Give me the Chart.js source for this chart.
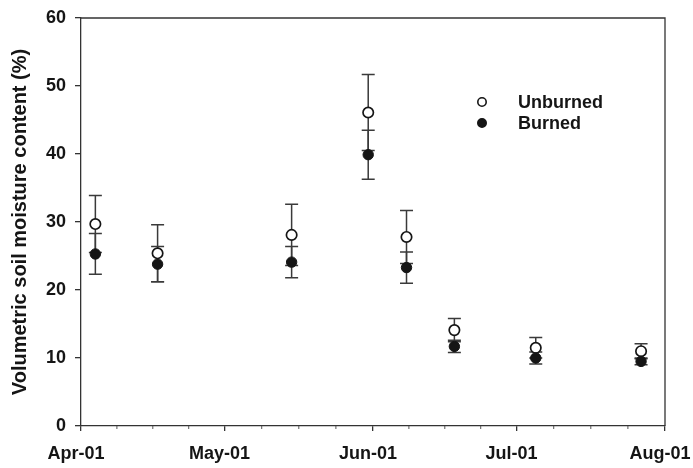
<!DOCTYPE html>
<html>
<head>
<meta charset="utf-8">
<script src="https://cdn.jsdelivr.net/npm/chart.js@4.4.0/dist/chart.umd.min.js"></script>
<style>
  html, body { margin: 0; padding: 0; background: #fff; }
  #wrap { width: 693px; height: 468px; }
</style>
</head>
<body>
<div id="wrap"><canvas id="moistureChart" width="693" height="468"></canvas></div>
<script>
// sampling dates as days since Apr-01
const sampleDays = [3, 16, 44, 60, 68, 78, 95, 117];
const unburnedMean = [29.7, 25.4, 28.1, 46.1, 27.8, 14.1, 11.5, 11.0];
const unburnedSD = [4.2, 4.2, 4.5, 5.6, 3.9, 1.7, 1.5, 1.1];
const burnedMean = [25.3, 23.8, 24.1, 39.9, 23.3, 11.7, 10.0, 9.5];
const burnedSD = [3.0, 2.6, 2.3, 3.6, 2.3, 0.9, 0.9, 0.5];

// x axis month ticks (days since Apr-01)
const monthDays = [0, 30, 61, 91, 122];
const monthLabels = ['Apr-01', 'May-01', 'Jun-01', 'Jul-01', 'Aug-01'];
const yTicks = [0, 10, 20, 30, 40, 50, 60];

const FONT = 'Liberation Sans, Arial, sans-serif';
const INK = '#151515';

function toPoints(means) {
    return sampleDays.map((d, i) => ({ x: d, y: means[i] }));
}

// error bars go under the markers
const errorBars = {
    id: 'errorBars',
    beforeDatasetsDraw(chart) {
        const { ctx, scales: { x, y } } = chart;
        const sets = [[unburnedMean, unburnedSD], [burnedMean, burnedSD]];
        ctx.save();
        ctx.strokeStyle = '#3a3a3a';
        ctx.lineWidth = 1.5;
        sets.forEach(([means, sds]) => {
            sampleDays.forEach((d, i) => {
                const px = x.getPixelForValue(d);
                const top = y.getPixelForValue(means[i] + sds[i]);
                const bot = y.getPixelForValue(means[i] - sds[i]);
                ctx.beginPath();
                ctx.moveTo(px, top); ctx.lineTo(px, bot);
                ctx.moveTo(px - 6.5, top); ctx.lineTo(px + 6.5, top);
                ctx.moveTo(px - 6.5, bot); ctx.lineTo(px + 6.5, bot);
                ctx.stroke();
            });
        });
        ctx.restore();
    }
};

// frame, minor x ticks and the in-plot legend
const frameAndLegend = {
    id: 'frameAndLegend',
    afterDraw(chart) {
        const { ctx, chartArea: a, scales: { x } } = chart;
        ctx.save();
        ctx.strokeStyle = '#333';
        ctx.lineWidth = 1.3;
        ctx.beginPath();
        ctx.moveTo(a.left, a.top); ctx.lineTo(a.right, a.top); ctx.lineTo(a.right, a.bottom);
        ctx.stroke();

        // quarter-month minor ticks
        ctx.lineWidth = 1;
        ctx.strokeStyle = '#555';
        for (let m = 0; m < monthDays.length - 1; m++) {
            const len = monthDays[m + 1] - monthDays[m];
            for (let k = 1; k < 4; k++) {
                const px = x.getPixelForValue(monthDays[m] + len * k / 4);
                ctx.beginPath();
                ctx.moveTo(px, a.bottom); ctx.lineTo(px, a.bottom + 3);
                ctx.stroke();
            }
        }

        // legend
        const items = [
            { label: 'Unburned', fill: '#fff', y: 102 },
            { label: 'Burned', fill: INK, y: 123 }
        ];
        ctx.font = 'bold 18px ' + FONT;
        ctx.textBaseline = 'middle';
        ctx.fillStyle = INK;
        items.forEach(it => {
            ctx.beginPath();
            ctx.arc(482, it.y, 4.2, 0, Math.PI * 2);
            ctx.fillStyle = it.fill;
            ctx.fill();
            ctx.lineWidth = 1.6;
            ctx.strokeStyle = INK;
            ctx.stroke();
            ctx.fillStyle = INK;
            ctx.fillText(it.label, 518, it.y + 1);
        });
        ctx.restore();
    }
};

new Chart(document.getElementById('moistureChart'), {
    type: 'scatter',
    data: {
        datasets: [
            {
                label: 'Burned',
                data: toPoints(burnedMean),
                pointRadius: 5.2,
                pointBackgroundColor: INK,
                pointBorderColor: INK,
                pointBorderWidth: 1
            },
            {
                label: 'Unburned',
                data: toPoints(unburnedMean),
                pointRadius: 5.2,
                pointBackgroundColor: '#fff',
                pointBorderColor: INK,
                pointBorderWidth: 1.7
            }
        ]
    },
    options: {
        responsive: false,
        animation: false,
        layout: { padding: { top: 18, right: 28, left: 0, bottom: 0 } },
        plugins: {
            legend: { display: false },
            tooltip: { enabled: false }
        },
        scales: {
            x: {
                type: 'linear',
                min: 0,
                max: 122,
                afterBuildTicks: scale => { scale.ticks = monthDays.map(v => ({ value: v })); },
                afterFit: scale => {
                    scale.height = 42;
                    scale.paddingLeft = 0;
                    scale.paddingRight = 0;
                },
                grid: { drawOnChartArea: false, tickLength: 5, color: '#333', lineWidth: 1.3 },
                border: { color: '#333', width: 1.3 },
                ticks: {
                    padding: 12,
                    labelOffset: -5,
                    maxRotation: 0,
                    autoSkip: false,
                    color: INK,
                    font: { family: FONT, size: 18, weight: 'bold' },
                    callback: v => monthLabels[monthDays.indexOf(v)]
                }
            },
            y: {
                min: 0,
                max: 60,
                afterBuildTicks: scale => { scale.ticks = yTicks.map(v => ({ value: v })); },
                afterFit: scale => {
                    scale.width = 81;
                    scale.paddingTop = 0;
                    scale.paddingBottom = 0;
                },
                grid: { drawOnChartArea: false, tickLength: 6, color: '#333', lineWidth: 1.3 },
                border: { color: '#333', width: 1.3 },
                ticks: {
                    padding: 9,
                    color: INK,
                    font: { family: FONT, size: 18, weight: 'bold' }
                },
                title: {
                    display: true,
                    text: 'Volumetric soil moisture content (%)',
                    color: INK,
                    font: { family: FONT, size: 20, weight: 'bold' },
                    padding: { top: 8, bottom: 0 }
                }
            }
        }
    },
    plugins: [errorBars, frameAndLegend]
});
</script>
</body>
</html>
